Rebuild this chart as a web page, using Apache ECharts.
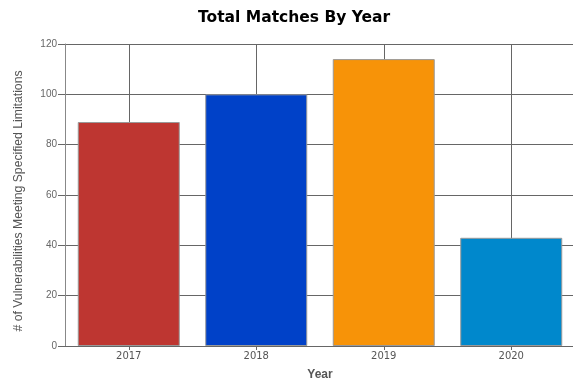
<!DOCTYPE html>
<html><head><meta charset="utf-8">
<script src="https://cdn.jsdelivr.net/npm/echarts@6/dist/echarts.min.js"></script>
<style>html,body{margin:0;padding:0;background:#fff}#c{width:573px;height:380px}</style>
</head><body><div id="c"></div>
<script>
const categories = ['2017', '2018', '2019', '2020'];
const values = [89, 100, 114, 43];
const barColors = ['#BE3631', '#0041C8', '#F79308', '#0088CC'];
const yTicks = { min: 0, max: 120, interval: 20 };

const chart = echarts.init(document.getElementById('c'));
chart.setOption({
  animation: false,
  backgroundColor: '#fff',
  title: {
    text: 'Total Matches By Year', left: 193, top: 5,
    textStyle: { fontFamily: 'DejaVu Sans', fontWeight: 'bold', fontSize: 15.5, color: '#000' }
  },
  grid: { left: 65, right: -2, top: 44, bottom: 34, containLabel: false, outerBoundsMode: 'none' },
  xAxis: {
    type: 'category', data: categories,
    name: 'Year', nameLocation: 'middle', nameGap: 23,
    nameTextStyle: { fontFamily: 'Liberation Sans', fontSize: 12, fontWeight: 'bold', color: '#555' },
    axisLine: { lineStyle: { color: '#666', width: 1 } },
    axisTick: { show: true, alignWithLabel: true, length: 4, lineStyle: { color: '#666' } },
    axisLabel: { fontFamily: 'DejaVu Sans', fontSize: 10, color: '#555', margin: 5 },
    splitLine: { show: true, alignWithLabel: true, lineStyle: { color: '#666', width: 1 } }
  },
  yAxis: {
    type: 'value', min: yTicks.min, max: yTicks.max, interval: yTicks.interval,
    name: '# of Vulnerabilities Meeting Specified Limitations', nameLocation: 'middle', nameGap: 40,
    nameTextStyle: { fontFamily: 'Liberation Sans', fontSize: 12.2, color: '#555', padding: [0, 12, 0, 0] },
    axisLine: { show: true, lineStyle: { color: '#888', width: 1 } },
    axisTick: { show: true, length: 7, lineStyle: { color: '#666' } },
    axisLabel: { fontFamily: 'Liberation Sans', fontSize: 10, color: '#666', margin: 8 },
    splitLine: { show: true, lineStyle: { color: '#666', width: 1 } }
  },
  series: [{
    type: 'bar',
    barCategoryGap: '20%',
    data: values.map((v, i) => ({ value: v, itemStyle: { color: barColors[i] } })),
    itemStyle: { borderColor: '#999', borderWidth: 1 }
  }]
});
</script></body></html>
